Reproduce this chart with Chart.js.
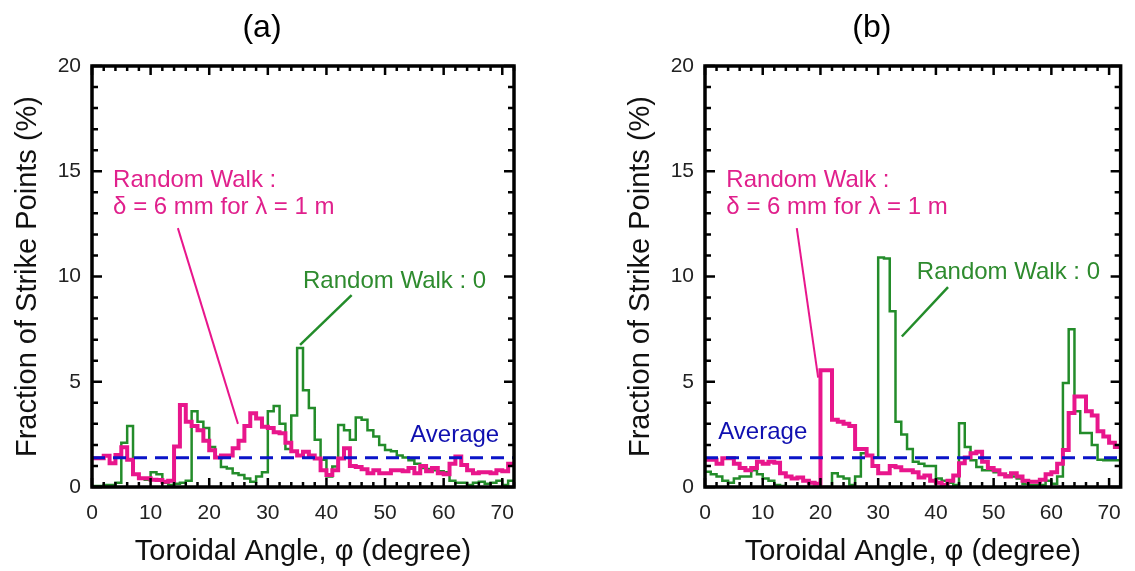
<!DOCTYPE html>
<html>
<head>
<meta charset="utf-8">
<script src="https://cdn.jsdelivr.net/npm/chart.js@4.4.0/dist/chart.umd.min.js"></script>
<style>
body{margin:0;background:#fff;}
#wrap{position:relative;width:1135px;height:571px;}
.pane{position:absolute;top:0;height:571px;}
</style>
</head>
<body>
<div id="wrap">
  <div class="pane" style="left:0;width:567px"><canvas id="graficoA"></canvas></div>
  <div class="pane" style="left:567px;width:568px"><canvas id="graficoB"></canvas></div>
</div>
<script>
// valores por bin de 1 grado (0-72)
var ticksX = [0, 10, 20, 30, 40, 50, 60, 70];
var ticksY = [0, 5, 10, 15, 20];
var promedio = 1.39;

var magentaA = [1.37,1.37,1.48,1.13,1.52,1.89,1.3,0.6,0.41,0.41,0.35,0.33,0.25,0.3,1.92,3.9,3.1,2.9,2.7,2.2,
  1.75,1.4,1.5,1.5,1.84,2.2,2.9,3.5,3.25,2.86,2.8,2.6,2.55,2.1,1.7,1.5,1.68,1.5,1.35,0.8,
  0.57,0.8,1.35,1.84,1.0,0.95,0.84,0.65,0.8,0.65,0.65,0.8,0.8,0.75,0.9,0.65,1.0,0.75,0.9,0.65,
  0.6,1.1,1.45,1.05,0.8,0.65,0.7,0.7,0.65,0.8,0.75,1.1];
var verdeA = [0.05,0.05,0.1,0.1,0.2,2.1,2.9,0.6,0.4,0.35,0.7,0.6,0.2,0.1,0.15,0.2,0.3,3.6,3.1,2.8,
  1.9,1.4,0.95,0.88,0.65,0.57,0.4,0.25,0.5,0.7,3.6,3.85,3.0,1.8,3.4,6.6,4.6,3.75,2.24,1.29,
  0.5,0.97,2.95,2.7,2.24,3.3,3.2,2.7,2.4,2.0,1.76,1.7,1.5,1.4,1.27,1.1,0.9,0.85,0.8,0.75,
  0.7,0.3,0.2,0.2,0.1,0.2,0.25,0.15,0.2,0.3,0.1,0.3];
var magentaB = [1.3,1.3,1.1,1.37,1.37,1.1,0.9,0.8,0.9,1.2,1.1,1.2,1.15,0.65,0.5,0.4,0.45,0.3,0.2,0.15,
  5.55,5.55,3.2,3.1,3.0,2.9,1.8,1.8,1.5,1.0,0.65,0.65,1.0,0.94,0.8,0.8,0.7,0.45,0.55,0.3,
  0.2,0.1,0.3,0.55,1.13,1.4,1.6,1.68,1.2,0.9,0.8,0.6,0.5,0.65,0.5,0.3,0.25,0.25,0.35,0.6,
  0.7,1.1,1.76,3.52,4.3,4.3,3.6,3.4,2.65,2.4,2.1,1.9];
var verdeB = [0.73,0.6,0.5,0.3,0.2,0.4,0.5,0.5,0.8,0.6,0.4,0.3,0.1,0.05,0,0,0,0,0,0,
  0,0,0.65,0.5,0.4,0.1,0.5,1.6,1.5,1.4,10.9,10.85,8.35,3.1,2.5,1.8,1.2,1.1,1.0,1.0,
  0.4,0.3,0.2,0.1,3.03,1.9,1.27,0.95,0.8,0.8,0.7,0.6,0.55,0.5,0.4,0.15,0.1,0.1,0.1,0.3,
  0.15,0.5,4.94,7.5,3.6,2.56,2.56,2.0,1.3,1.27,1.27,1.27];

var colorMagenta = '#e8168c';
var colorVerde = '#238c2a';
var colorAzul = '#0a14c8';
var fuente = '"Liberation Sans", Arial, sans-serif';

var notasA = [
  {texto: 'Random Walk :', x: 3.6, y: 14.55, color: '#e0208c'},
  {texto: 'δ = 6 mm for λ = 1 m', x: 3.6, y: 13.3, color: '#e0208c'},
  {texto: 'Random Walk : 0', x: 36.0, y: 9.75, color: '#2e8b2e'},
  {texto: 'Average', x: 54.3, y: 2.45, color: '#1010b0'}
];
var lineasA = [
  {x1: 14.65, y1: 12.3, x2: 24.9, y2: 3.0, color: colorMagenta, ancho: 2},
  {x1: 35.5, y1: 6.75, x2: 44.3, y2: 9.12, color: colorVerde, ancho: 2.5}
];
var notasB = [
  {texto: 'Random Walk :', x: 3.7, y: 14.55, color: '#e0208c'},
  {texto: 'δ = 6 mm for λ = 1 m', x: 3.7, y: 13.3, color: '#e0208c'},
  {texto: 'Random Walk : 0', x: 36.7, y: 10.2, color: '#2e8b2e'},
  {texto: 'Average', x: 2.3, y: 2.6, color: '#1010b0'}
];
var lineasB = [
  {x1: 15.9, y1: 12.3, x2: 19.6, y2: 5.2, color: colorMagenta, ancho: 2},
  {x1: 34.1, y1: 7.15, x2: 42.1, y2: 9.5, color: colorVerde, ancho: 2.5}
];

function pasos(valores){
  var p = [];
  for (var i = 0; i < valores.length; i++) {
    p.push({x: i, y: valores[i]});
  }
  p.push({x: valores.length, y: valores[valores.length - 1]});
  return p;
}

// marco, ticks hacia adentro, titulo y notas
var marco = {
  id: 'marco',
  afterDraw: function(chart, args, op){
    var ctx = chart.ctx, a = chart.chartArea;
    var sx = chart.scales.x, sy = chart.scales.y;
    ctx.save();
    ctx.strokeStyle = '#000';
    ctx.lineWidth = 2.5;
    ctx.beginPath();
    for (var d = 0; d <= 72; d += 2) {
      var px = sx.getPixelForValue(d);
      var l = d % 10 === 0 ? 9 : 5;
      ctx.moveTo(px, a.bottom); ctx.lineTo(px, a.bottom - l);
      ctx.moveTo(px, a.top); ctx.lineTo(px, a.top + l);
    }
    for (var v = 0; v <= 20; v++) {
      var py = sy.getPixelForValue(v);
      var l2 = v % 5 === 0 ? 10 : 6;
      ctx.moveTo(a.left, py); ctx.lineTo(a.left + l2, py);
      ctx.moveTo(a.right, py); ctx.lineTo(a.right - l2, py);
    }
    ctx.stroke();
    ctx.lineWidth = 3.5;
    ctx.strokeRect(a.left, a.top, a.right - a.left, a.bottom - a.top);

    op.lineas.forEach(function(ln){
      ctx.strokeStyle = ln.color;
      ctx.lineWidth = ln.ancho;
      ctx.beginPath();
      ctx.moveTo(sx.getPixelForValue(ln.x1), sy.getPixelForValue(ln.y1));
      ctx.lineTo(sx.getPixelForValue(ln.x2), sy.getPixelForValue(ln.y2));
      ctx.stroke();
    });
    ctx.font = '24px ' + fuente;
    ctx.textAlign = 'left';
    ctx.textBaseline = 'middle';
    op.notas.forEach(function(n){
      ctx.fillStyle = n.color;
      ctx.fillText(n.texto, sx.getPixelForValue(n.x), sy.getPixelForValue(n.y));
    });
    ctx.fillStyle = '#000';
    ctx.font = '32px ' + fuente;
    ctx.textAlign = 'center';
    ctx.fillText(op.titulo, (a.left + a.right) / 2 - 41, 28);
    ctx.restore();
  }
};

function crearGrafico(id, titulo, magenta, verde, notas, lineas, padIzq, padDer){
  var ctx = document.getElementById(id);
  return new Chart(ctx, {
    type: 'line',
    data: {
      datasets: [
        {data: [{x: 0, y: promedio}, {x: 72, y: promedio}], borderColor: colorAzul, borderWidth: 3,
         borderDash: [13, 8], pointRadius: 0},
        {data: pasos(magenta), borderColor: colorMagenta, borderWidth: 4, stepped: true, pointRadius: 0},
        {data: pasos(verde), borderColor: colorVerde, borderWidth: 2.5, stepped: true, pointRadius: 0}
      ]
    },
    options: {
      responsive: true,
      maintainAspectRatio: false,
      animation: false,
      layout: {padding: {top: 66, left: padIzq, right: padDer, bottom: 0}},
      plugins: {
        legend: {display: false},
        tooltip: {enabled: false},
        marco: {titulo: titulo, notas: notas, lineas: lineas}
      },
      scales: {
        x: {
          type: 'linear', min: 0, max: 72,
          grid: {display: false, drawTicks: false},
          border: {display: false},
          afterBuildTicks: function(s){ s.ticks = ticksX.map(function(v){ return {value: v}; }); },
          afterFit: function(s){ s.height = 84; },
          ticks: {padding: 14, color: '#222', font: {family: fuente, size: 21}, maxRotation: 0},
          title: {display: true, text: 'Toroidal Angle, φ (degree)', color: '#111',
                  font: {family: fuente, size: 29}, padding: {top: 0, bottom: 2}}
        },
        y: {
          min: 0, max: 20,
          grid: {display: false, drawTicks: false},
          border: {display: false},
          afterBuildTicks: function(s){ s.ticks = ticksY.map(function(v){ return {value: v}; }); },
          afterFit: function(s){ s.width = 92; },
          ticks: {padding: 11, color: '#222', font: {family: fuente, size: 21}},
          title: {display: true, text: 'Fraction of Strike Points (%)', color: '#111',
                  font: {family: fuente, size: 29}, padding: {top: 11, bottom: 0}}
        }
      }
    },
    plugins: [marco]
  });
}

crearGrafico('graficoA', '(a)', magentaA, verdeA, notasA, lineasA, 0, 53);
crearGrafico('graficoB', '(b)', magentaB, verdeB, notasB, lineasB, 46, 8);
</script>
</body>
</html>
